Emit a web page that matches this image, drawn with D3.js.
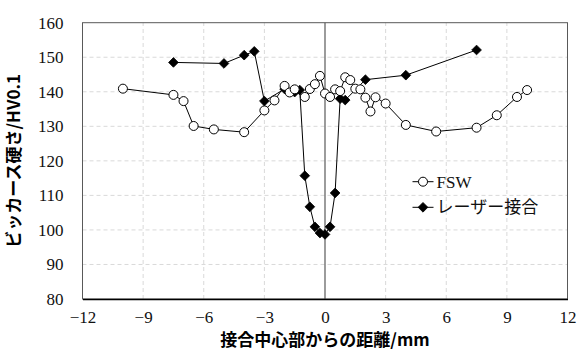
<!DOCTYPE html>
<html>
<head>
<meta charset="utf-8">
<script src="https://cdn.jsdelivr.net/npm/d3@7"></script>
<style>
  html, body { margin: 0; padding: 0; background: #fff; }
  svg { display: block; }
  .tick text { font-family: "Liberation Serif", "DejaVu Serif", serif; font-size: 17px; fill: #111; }
</style>
</head>
<body>
<svg id="chart" width="580" height="351"></svg>
<script>
// Vickers hardness profiles across the joint centre
const xTicks = [-12, -9, -6, -3, 0, 3, 6, 9, 12];
const yTicks = [80, 90, 100, 110, 120, 130, 140, 150, 160];

const fswX = [-10, -7.5, -7, -6.5, -5.5, -4, -3, -2.5, -2, -1.75, -1.5, -1, -0.75, -0.5, -0.25,
              0, 0.25, 0.5, 0.75, 1, 1.25, 1.5, 1.75, 2, 2.25, 2.5, 3, 4, 5.5, 7.5, 8.5, 9.5, 10];
const fswY = [140.9, 139.1, 137.3, 130.1, 129.1, 128.3, 134.6, 137.5, 141.7, 139.8, 140.7, 138.5, 140.8, 142.2, 144.6,
              139.5, 138.5, 140.7, 140.2, 144.2, 143.4, 140.9, 140.7, 138.3, 134.3, 138.4, 136.6, 130.4, 128.5, 129.6, 133.2, 138.5, 140.5];

const laserX = [-7.5, -5, -4, -3.5, -3, -2, -1.5, -1.25, -1, -0.75, -0.5, -0.25, 0, 0.25, 0.5, 0.75, 1, 2, 4, 7.5];
const laserY = [148.5, 148.2, 150.6, 151.7, 137.3, 140.8, 139.9, 140.5, 115.7, 106.7, 100.9, 99.1, 98.7, 100.9, 110.7, 138.0, 137.6, 143.5, 144.8, 152.1];

const seriesNames = ["FSW", "レーザー接合"];
const xTitle = "接合中心部からの距離/mm";
const yTitle = "ビッカース硬さ/HV0.1";

const svg = d3.select("#chart");
const x = d3.scaleLinear().domain([-12, 12]).range([82.5, 567.5]);
const y = d3.scaleLinear().domain([80, 160]).range([299, 22.7]);

const serif = "'Liberation Serif', 'DejaVu Serif', serif";
const cjk = "'Noto Sans CJK JP', sans-serif";

// grid
const grid = svg.append("g");
grid.selectAll(".hg").data(yTicks.slice(1, -1)).join("line")
  .attr("x1", x(-12)).attr("x2", x(12))
  .attr("y1", d => y(d)).attr("y2", d => y(d))
  .attr("stroke", "#d9d9d9").attr("stroke-width", 1).attr("stroke-dasharray", "4,3");
grid.selectAll(".vg").data(xTicks.filter(d => d !== 0 && Math.abs(d) !== 12)).join("line")
  .attr("x1", d => x(d)).attr("x2", d => x(d))
  .attr("y1", y(80)).attr("y2", y(160))
  .attr("stroke", "#d9d9d9").attr("stroke-width", 1).attr("stroke-dasharray", "4,3");

// plot frame
svg.append("rect")
  .attr("x", x(-12)).attr("y", y(160))
  .attr("width", x(12) - x(-12)).attr("height", y(80) - y(160))
  .attr("fill", "none").attr("stroke", "#595959").attr("stroke-width", 1);

// vertical axis line at x = 0
svg.append("line")
  .attr("x1", x(0)).attr("x2", x(0)).attr("y1", y(80)).attr("y2", y(160))
  .attr("stroke", "#595959").attr("stroke-width", 1.2);

// bottom axis
const xAxis = svg.append("g").attr("transform", `translate(0,${y(80)})`)
  .call(d3.axisBottom(x).tickValues(xTicks).tickSize(0).tickPadding(12)
    .tickFormat(d => d < 0 ? "\u2212" + Math.abs(d) : String(d)));
xAxis.select(".domain").attr("stroke", "#000").attr("stroke-width", 1.5);

// left axis
const yAxis = svg.append("g").attr("transform", `translate(${x(-12)},0)`)
  .call(d3.axisLeft(y).tickValues(yTicks).tickSize(0).tickPadding(19));
yAxis.select(".domain").remove();

// axis titles
svg.append("text")
  .attr("x", 325).attr("y", 346)
  .attr("text-anchor", "middle")
  .attr("font-family", cjk).attr("font-weight", "bold").attr("font-size", 17)
  .attr("fill", "#000").text(xTitle);
svg.append("text")
  .attr("transform", `translate(20,${(y(80) + y(160)) / 2}) rotate(-90)`)
  .attr("text-anchor", "middle")
  .attr("font-family", cjk).attr("font-weight", "bold").attr("font-size", 17)
  .attr("fill", "#000").text(yTitle);

const line = d3.line().x(d => x(d[0])).y(d => y(d[1]));
const fsw = fswX.map((v, i) => [v, fswY[i]]);
const laser = laserX.map((v, i) => [v, laserY[i]]);

// laser series
svg.append("path").datum(laser).attr("d", line)
  .attr("fill", "none").attr("stroke", "#000").attr("stroke-width", 1);
const diamond = d3.symbol().type(d3.symbolDiamond2).size(60);
svg.append("g").selectAll("path").data(laser).join("path")
  .attr("transform", d => `translate(${x(d[0])},${y(d[1])})`)
  .attr("d", diamond).attr("fill", "#000").attr("stroke", "#000").attr("stroke-width", 0.8);

// FSW series
svg.append("path").datum(fsw).attr("d", line)
  .attr("fill", "none").attr("stroke", "#000").attr("stroke-width", 1);
svg.append("g").selectAll("circle").data(fsw).join("circle")
  .attr("cx", d => x(d[0])).attr("cy", d => y(d[1])).attr("r", 4.5)
  .attr("fill", "#fff").attr("stroke", "#000").attr("stroke-width", 1);

// legend
const lg = svg.append("g");
const rows = [181.7, 207.3];
rows.forEach((ry, i) => {
  lg.append("line").attr("x1", 412.5).attr("x2", 433.5).attr("y1", ry).attr("y2", ry)
    .attr("stroke", "#000").attr("stroke-width", 1);
  if (i === 0) {
    lg.append("circle").attr("cx", 423).attr("cy", ry).attr("r", 4.5)
      .attr("fill", "#fff").attr("stroke", "#000");
  } else {
    lg.append("path").attr("transform", `translate(423,${ry})`).attr("d", diamond)
      .attr("fill", "#000").attr("stroke", "#000").attr("stroke-width", 0.8);
  }
  lg.append("text").attr("x", 436.5).attr("y", ry).attr("dy", "0.35em")
    .attr("font-family", serif + ", " + cjk).attr("font-size", 17).attr("fill", "#111")
    .text(seriesNames[i]);
});
</script>
</body>
</html>
